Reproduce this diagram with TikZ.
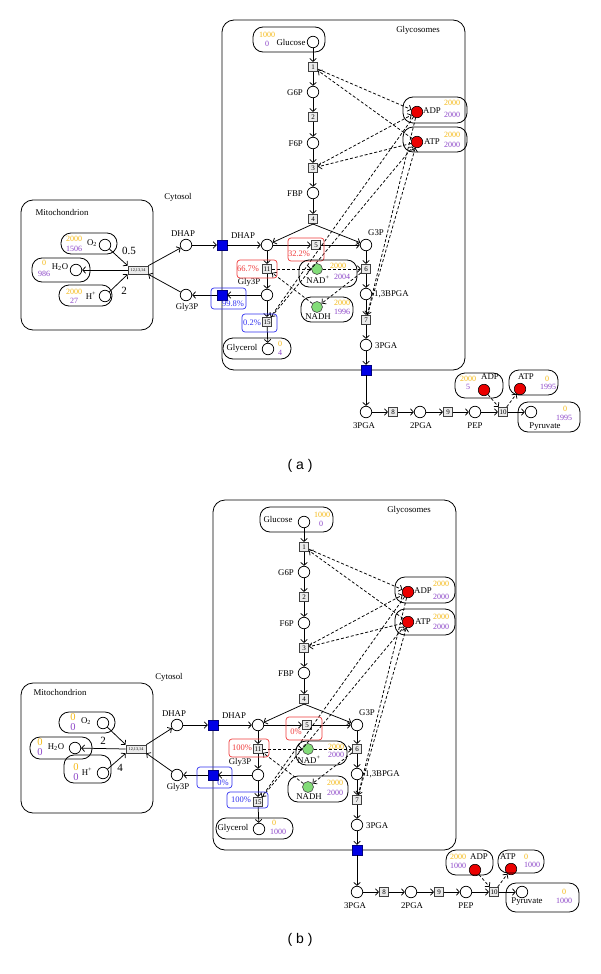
\documentclass[tikz,border=0pt]{standalone}
\usepackage{fontspec}
\setmainfont{Liberation Serif}
\newfontfamily\sansf{Liberation Sans}
\usetikzlibrary{arrows.meta}
\definecolor{corange}{RGB}{245,185,20}
\definecolor{cpurple}{RGB}{140,70,200}
\definecolor{cred}{RGB}{235,0,0}
\definecolor{cred2}{RGB}{240,60,60}
\definecolor{cblue}{RGB}{50,50,240}
\definecolor{cgreen}{RGB}{130,220,120}
\definecolor{cbsq}{RGB}{0,0,230}

\newcommand\glycoskel{%
 \draw[cframe] (222,20) rectangle (465,370);
 \node[lab] (tglyco) at (418,30) {Glycosomes};
 \node[lab] (tcyto) at (178,197) {Cytosol};
 % main chain
 \node[met] (glc) at (313,42) {};
 \node[rxn] (r1) at (313,67) {1};
 \node[met] (g6p) at (313,92) {};
 \node[rxn] (r2) at (313,117) {2};
 \node[met] (f6p) at (313,143) {};
 \node[rxn] (r3) at (313,168) {3};
 \node[met] (fbp) at (313,193) {};
 \node[rxn] (r4) at (313,219) {4};
 \node[met] (dhap) at (267,245) {};
 \node[rxn] (r5) at (316,245) {5};
 \node[met] (g3p) at (366,245) {};
 \node[rxn] (r11) at (267,269) {11};
 \node[rxn] (r6) at (366,269) {6};
 \node[met] (gly3p) at (267,295) {};
 \node[met] (bpga) at (366,294) {};
 \node[rxn] (r15) at (267,322) {15};
 \node[rxn] (r7) at (366,320) {7};
 \node[met] (glycerol) at (268,349) {};
 \node[met] (pga) at (366,345) {};
 \node[bsq] (bq3) at (366,370) {};
 \node[bsq] (bqd) at (222,245) {};
 \node[bsq] (bqg) at (222,295) {};
 \node[met] (dhapc) at (186,245) {};
 \node[met] (gly3pc) at (186,295) {};
 % outside chain
 \node[met] (pgao) at (366,412) {};
 \node[rxn] (r8) at (393,412) {8};
 \node[met] (pga2) at (420,412) {};
 \node[rxn] (r9) at (448,412) {9};
 \node[met] (pep) at (475,412) {};
 \node[rxn] (r10) at (503,412) {10};
 \node[met] (pyr) at (531,412) {};
 % cofactors
 \node[redc] (adp) at (417,112) {};
 \node[redc] (atp) at (417,142) {};
 \node[grnc] (nad) at (317,269) {};
 \node[grnc] (nadh) at (317,307) {};
 \node[redc] (adpo) at (484,390) {};
 \node[redc] (atpo) at (520,389) {};
 % labels
 \node[lab,anchor=east] (tg6p) at (303,93) {G6P};
 \node[lab,anchor=east] (tf6p) at (303,144) {F6P};
 \node[lab,anchor=east] (tfbp) at (303,194) {FBP};
 \node[lab] (tdhap) at (243,236) {DHAP};
 \node[lab] (tg3p) at (376,233) {G3P};
 \node[lab] (tgly3p) at (249,282) {Gly3P};
 \node[lab,anchor=west] (tbpga) at (374,294) {1,3BPGA};
 \node[lab,anchor=west] (tpga) at (375,346) {3PGA};
 \node[lab] (tdhapc) at (183,234) {DHAP};
 \node[lab] (tgly3pc) at (187,307) {Gly3P};
 \node[lab] (tpgao) at (364,426) {3PGA};
 \node[lab] (tpga2) at (421,426) {2PGA};
 \node[lab] (tpep) at (475,426) {PEP};
 \node[lab] (tadp) at (432,111) {ADP};
 \node[lab] (tatp) at (432,142) {ATP};
 \node[lab] (tnad) at (318,280) {NAD\textsuperscript{+}};
 \node[lab] (tnadh) at (318,317) {NADH};
 \node[lab] (tglycerol) at (242,348) {Glycerol};
 % solid connectors
 \draw[arr] (glc) -- (r1);
 \draw[arr] (r1) -- (g6p);
 \draw[arr] (g6p) -- (r2);
 \draw[arr] (r2) -- (f6p);
 \draw[arr] (f6p) -- (r3);
 \draw[arr] (r3) -- (fbp);
 \draw[arr] (fbp) -- (r4);
 \draw[arr] (r4.south) -- (dhap);
 \draw[arr] (r4.south) -- (g3p);
 \draw[arr] (dhap) -- (r5);
 \draw[arr] (r5) -- (g3p);
 \draw[arr] (dhap) -- (r11);
 \draw[arr] (r11) -- (gly3p);
 \draw[arr] (gly3p) -- (r15);
 \draw[arr] (r15) -- (glycerol);
 \draw[arr] (g3p) -- (r6);
 \draw[arr] (r6) -- (bpga);
 \draw[arr] (bpga) -- (r7);
 \draw[arr] (r7) -- (pga);
 \draw[arr] (pga) -- (bq3);
 \draw[arr] (bq3) -- (pgao);
 \draw[arr] (pgao) -- (r8);
 \draw[arr] (r8) -- (pga2);
 \draw[arr] (pga2) -- (r9);
 \draw[arr] (r9) -- (pep);
 \draw[arr] (pep) -- (r10);
 \draw[arr] (r10) -- (pyr);
 \draw[arr] (dhapc) -- (bqd);
 \draw[arr] (bqd) -- (dhap);
 \draw[arr] (gly3p) -- (bqg);
 \draw[arr] (bqg) -- (gly3pc);
 % dashed cofactor connectors
 \draw[darr] (atp) -- (r1);
 \draw[darr] (r1) -- (adp);
 \draw[darr] (atp) -- (r3);
 \draw[darr] (r3) -- (adp);
 \draw[darr] (adp) -- (r7);
 \draw[darr] (r7) -- (atp);
 \draw[darr] (adp) -- (r15);
 \draw[darr] (r15) -- (atp);
 \draw[darr] (nadh) -- (r11);
 \draw[darr] (r11) -- (nad);
 \draw[darr] (nad) -- (r6);
 \draw[darr] (r6) -- (nadh);
 \draw[darr] (adpo) -- (r10);
 \draw[darr] (r10) -- (atpo);
}

\begin{document}
\begin{tikzpicture}[x=1pt,y=-1pt,
 met/.style={circle,draw,minimum size=11.5pt,inner sep=0pt,line width=0.75pt},
 rxn/.style={rectangle,draw=black!75,fill=black!8,minimum size=9.5pt,inner sep=0pt,line width=0.6pt,font=\fontsize{7}{7}\selectfont},
 mrxn/.style={rectangle,draw=black!75,fill=black!8,minimum width=20pt,minimum height=8pt,inner sep=0pt,line width=0.6pt,font=\fontsize{4.2}{4.2}\selectfont},
 bsq/.style={rectangle,draw=black!50!blue,fill=cbsq,minimum size=10pt,inner sep=0pt,line width=0.5pt},
 redc/.style={circle,draw=black,fill=cred,minimum size=11.5pt,inner sep=0pt,line width=0.6pt},
 grnc/.style={circle,draw=black!70,fill=cgreen,minimum size=11pt,inner sep=0pt,line width=0.6pt},
 lab/.style={inner sep=0pt,font=\fontsize{8.8}{9}\selectfont},
 numt/.style={inner sep=0pt,font=\fontsize{8}{8}\selectfont},
 orgt/.style={numt,text=corange},
 purt/.style={numt,text=cpurple},
 bigorg/.style={orgt,font=\fontsize{10.5}{10.5}\selectfont},
 bigpur/.style={purt,font=\fontsize{10.5}{10.5}\selectfont},
 arr/.style={line width=0.75pt,-{Straight Barb[length=3pt,width=6.5pt]}},
 darr/.style={arr,dash pattern=on 3pt off 2pt},
 cframe/.style={draw,line width=0.8pt,rounded corners=12pt},
 rbox/.style={draw,line width=0.8pt,rounded corners=10pt},
 redbox/.style={draw=cred2,line width=0.7pt,rounded corners=3pt},
 bluebox/.style={draw=cblue,line width=0.7pt,rounded corners=3pt},
 redt/.style={inner sep=0pt,text=cred2,font=\fontsize{8.5}{8.5}\selectfont},
 bluet/.style={inner sep=0pt,text=cblue,font=\fontsize{8.5}{8.5}\selectfont},
 stoi/.style={inner sep=0pt,font=\fontsize{11}{11}\selectfont},
 plab/.style={inner sep=0pt,font=\sansf\fontsize{14}{14}\selectfont},
]
\useasboundingbox (0,0) rectangle (600,974);
\fill[white] (0,0) rectangle (600,974);

% ================= PANEL (a) =================
\begin{scope}[name prefix=a-]
 \glycoskel
\end{scope}
% glucose
\draw[rbox] (253,27) rectangle (325,52);
\node[orgt] (aglc1) at (267,35) {1000};
\node[purt] (aglc2) at (267,44) {0};
\node[lab] (aglct) at (291,42) {Glucose};
% ADP / ATP in glycosome
\draw[rbox] (403,97) rectangle (467,123);
\node[orgt] (aadp1) at (452,103) {2000};
\node[purt] (aadp2) at (452,115) {2000};
\draw[rbox] (403,127) rectangle (467,152);
\node[orgt] (aatp1) at (452,135) {2000};
\node[purt] (aatp2) at (452,145) {2000};
% percent boxes
\draw[redbox] (288,238) rectangle (324,261);
\node[redt] (ap5) at (299,254) {32.2\%};
\draw[redbox] (237,260) rectangle (277,278);
\node[redt] (ap11) at (248,269) {66.7\%};
\draw[bluebox] (211,288) rectangle (246,309);
\node[bluet] (apbq) at (233,304) {99.8\%};
\draw[bluebox] (242,314) rectangle (277,332);
\node[bluet] (ap15) at (252,323) {0.2\%};
% NAD
\draw[rbox] (299,260) rectangle (357,287);
\node[orgt] (anad1) at (338,266) {2000};
\node[purt] (anad2) at (342,277) {2004};
\draw[rbox] (301,297) rectangle (353,322);
\node[orgt] (anadh1) at (342,303) {2000};
\node[purt] (anadh2) at (342,312) {1996};
% glycerol
\draw[rbox] (223,338) rectangle (291,359);
\node[orgt] (agly1) at (280,344) {0};
\node[purt] (agly2) at (280,353) {4};
% outside
\draw[rbox] (455,373) rectangle (503,398);
\node[orgt] (aoadp1) at (468,379) {2000};
\node[purt] (aoadp2) at (468,387) {5};
\node[lab] (aoadpt) at (490,377) {ADP};
\draw[rbox] (509,370) rectangle (558,395);
\node[lab] (aoatpt) at (526,377) {ATP};
\node[orgt] (aoatp1) at (547,379) {0};
\node[purt] (aoatp2) at (548,387) {1995};
\draw[rbox] (518,402) rectangle (580,432);
\node[lab] (apyrt) at (545,427) {Pyruvate};
\node[orgt] (apyr1) at (565,409) {0};
\node[purt] (apyr2) at (564,417.5) {1995};
% mitochondrion
\draw[cframe] (21,200) rectangle (153,330);
\node[lab] (amito) at (62,212) {Mitochondrion};
\draw[rbox] (61,233) rectangle (117,254);
\node[orgt] (ao21) at (74,239) {2000};
\node[purt] (ao22) at (74,249) {1506};
\node[lab] (ao2t) at (92,243) {O\textsubscript{2}};
\node[met] (ao2) at (105,245) {};
\draw[rbox] (32,258) rectangle (90,282);
\node[orgt] (ah2o1) at (44,263) {0};
\node[purt] (ah2o2) at (44,274) {986};
\node[lab] (ah2ot) at (60,267) {H\textsubscript{2}O};
\node[met] (ah2o) at (76,270) {};
\draw[rbox] (59,285) rectangle (112,306);
\node[orgt] (ahp1) at (74,292) {2000};
\node[purt] (ahp2) at (74,301) {27};
\node[lab] (ahpt) at (91,296) {H\textsuperscript{+}};
\node[met] (ahp) at (105,296) {};
\node[mrxn] (arm) at (138,270) {12,13,14};
\draw[arr] (ao2) -- (arm.north west);
\draw[arr] (ahp) -- (arm.south west);
\draw[arr] (arm.west) -- (ah2o);
\draw[arr] (arm.north east) -- (a-dhapc);
\draw[arr] (a-gly3pc) -- (arm.south east);
\node[stoi] (ast1) at (129,251) {0.5};
\node[stoi] (ast2) at (124,291) {2};
\node[plab] (pa) at (300,466) {( a )};

% ================= PANEL (b) =================
\begin{scope}[shift={(-9,480)},name prefix=b-]
 \glycoskel
\end{scope}
\draw[rbox] (260,507) rectangle (333,532);
\node[lab] (bglct) at (278,519) {Glucose};
\node[orgt] (bglc1) at (322,515) {1000};
\node[purt] (bglc2) at (321,524) {0};
\draw[rbox] (395,577) rectangle (455,603);
\node[orgt] (badp1) at (441,584) {2000};
\node[purt] (badp2) at (441,597) {2000};
\draw[rbox] (395,609) rectangle (455,635);
\node[orgt] (batp1) at (441,617) {2000};
\node[purt] (batp2) at (441,627) {2000};
\draw[redbox] (286,717) rectangle (322,740);
\node[redt] (bp5) at (296,732) {0\%};
\draw[redbox] (229,739) rectangle (269,757);
\node[redt] (bp11) at (242,748) {100\%};
\draw[bluebox] (197,767) rectangle (232,788);
\node[bluet] (bpbq) at (223,783) {0\%};
\draw[bluebox] (227,792) rectangle (268,808);
\node[bluet] (bp15) at (241,800) {100\%};
\draw[rbox] (296,741) rectangle (347,765);
\node[orgt] (bnad1) at (336,747) {2000};
\node[purt] (bnad2) at (336,755) {2000};
\draw[rbox] (288,776) rectangle (348,802);
\node[orgt] (bnadh1) at (335,783) {2000};
\node[purt] (bnadh2) at (335,793) {2000};
\draw[rbox] (216,818) rectangle (293,839);
\node[orgt] (bgly1) at (274,823) {0};
\node[purt] (bgly2) at (278,832) {1000};
\draw[rbox] (446,850) rectangle (493,875);
\node[orgt] (boadp1) at (458,857) {2000};
\node[purt] (boadp2) at (458,866) {1000};
\node[lab] (boadpt) at (479,857) {ADP};
\draw[rbox] (498,850) rectangle (544,873);
\node[lab] (boatpt) at (508,857) {ATP};
\node[orgt] (boatp1) at (526,857) {0};
\node[purt] (boatp2) at (532,865) {1000};
\draw[rbox] (506,883) rectangle (579,912);
\node[lab] (bpyrt) at (527,902) {Pyruvate};
\node[orgt] (bpyr1) at (564,892) {0};
\node[purt] (bpyr2) at (564,901) {1000};
% mitochondrion (b)
\draw[cframe] (21,683) rectangle (153,813);
\node[lab] (bmito) at (60,692) {Mitochondrion};
\draw[rbox] (59,712) rectangle (115,733);
\node[bigorg] (bo21) at (73,717) {0};
\node[bigpur] (bo22) at (73,727) {0};
\node[lab] (bo2t) at (86,721) {O\textsubscript{2}};
\node[met] (bo2) at (103,723) {};
\draw[rbox] (30,737) rectangle (92,759);
\node[bigorg] (bh2o1) at (40,742) {0};
\node[bigpur] (bh2o2) at (40,752) {0};
\node[lab] (bh2ot) at (56,747) {H\textsubscript{2}O};
\node[met] (bh2o) at (75,748) {};
\draw[rbox] (64,755) rectangle (111,783);
\node[bigorg] (bhp1) at (76,767) {0};
\node[bigpur] (bhp2) at (76,777) {0};
\node[lab] (bhpt) at (87,772) {H\textsuperscript{+}};
\node[met] (bhp) at (103,773) {};
\node[mrxn] (brm) at (136,749) {12,13,14};
\draw[arr] (bo2) -- (brm.north west);
\draw[arr] (bhp) -- (brm.south west);
\draw[arr] (brm.west) -- (bh2o);
\draw[arr] (brm.north east) -- (b-dhapc);
\draw[arr] (b-gly3pc) -- (brm.south east);
\node[stoi] (bst1) at (103,741) {2};
\node[stoi] (bst2) at (120,768) {4};
\node[plab] (pb) at (300,940) {( b )};
\end{tikzpicture}
\end{document}
